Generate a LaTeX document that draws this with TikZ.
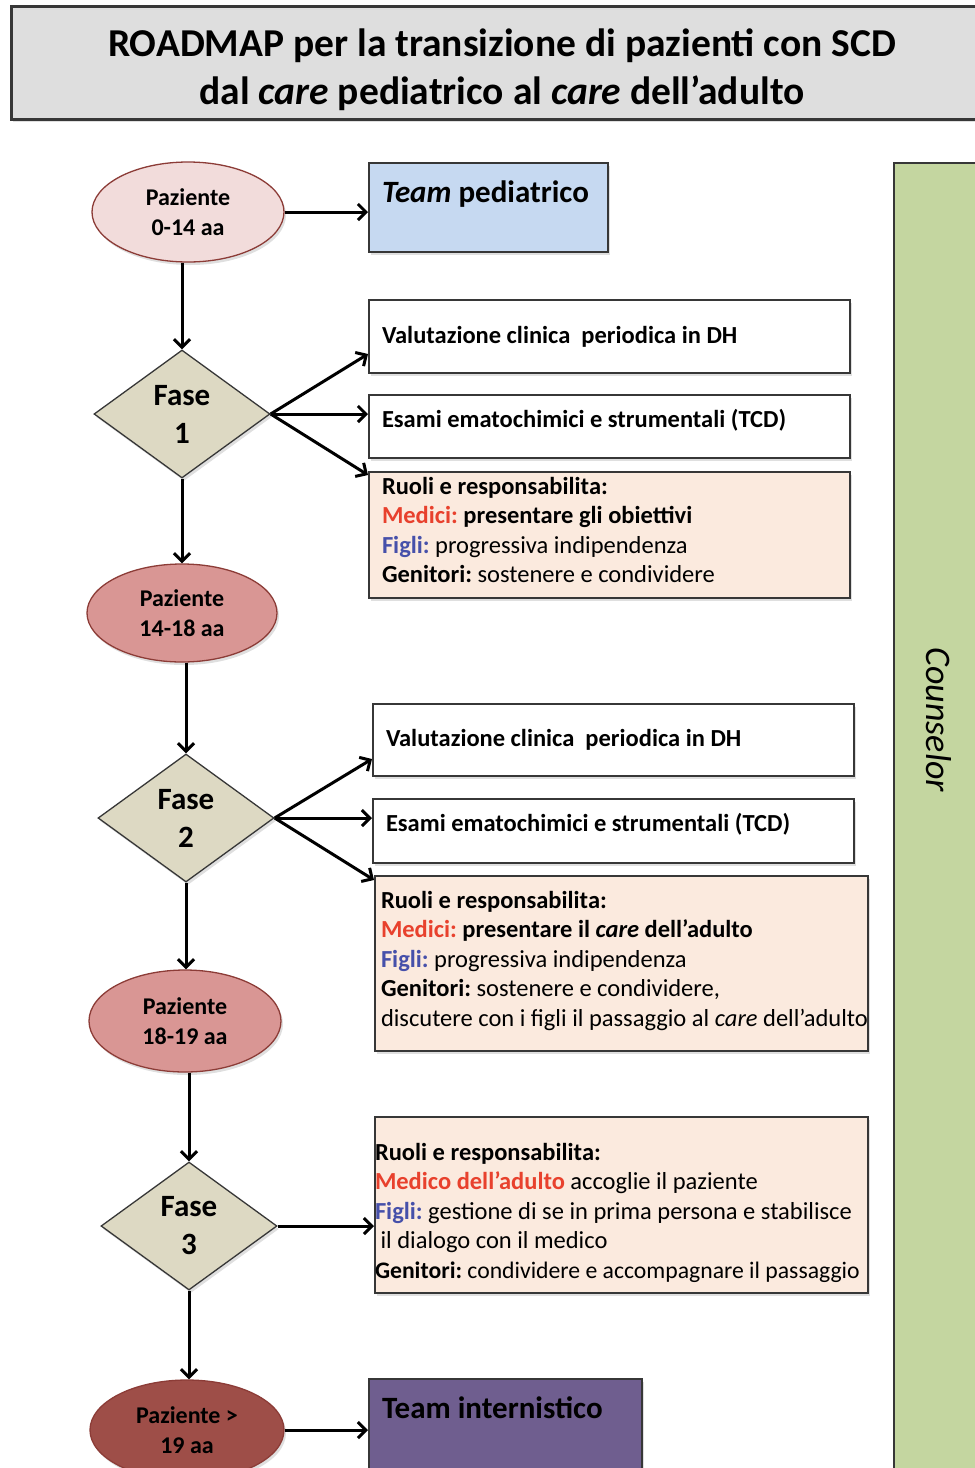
\documentclass[tikz,border=0pt]{standalone}
\usepackage{fontspec}
\setmainfont{Carlito}
\frenchspacing
\usetikzlibrary{shapes.geometric,shadows,arrows.meta}

\definecolor{titlegray}{RGB}{222,222,222}
\definecolor{edgegray}{RGB}{55,55,55}
\definecolor{pinklight}{RGB}{242,220,219}
\definecolor{pinkmid}{RGB}{217,150,148}
\definecolor{reddark}{RGB}{158,78,72}
\definecolor{rededge}{RGB}{140,60,55}
\definecolor{olivegray}{RGB}{221,217,195}
\definecolor{bluelight}{RGB}{198,217,241}
\definecolor{peach}{RGB}{251,234,222}
\definecolor{purplemid}{RGB}{111,94,143}
\definecolor{greenlight}{RGB}{196,214,160}
\definecolor{medred}{RGB}{232,65,45}
\definecolor{figblue}{RGB}{70,80,170}

\tikzset{
  boxshadow/.style={drop shadow={opacity=0.25, shadow xshift=2pt, shadow yshift=-3pt}},
  patient/.style={ellipse, draw=rededge, line width=1.3pt, boxshadow, inner sep=0pt,
    align=center, font=\fontsize{24}{30}\selectfont\bfseries},
  phase/.style={diamond, draw=edgegray, line width=1.3pt, fill=olivegray, boxshadow,
    inner sep=0pt, minimum width=176pt, minimum height=128pt, align=center,
    font=\fontsize{31}{38}\selectfont\bfseries},
  infobox/.style={rectangle, draw=edgegray, line width=2pt, fill=white, boxshadow,
    anchor=north west, align=flush left, inner xsep=13pt, inner ysep=0pt,
    font=\fontsize{24.5}{29.5}\selectfont},
  teambox/.style={infobox, font=\fontsize{31}{36}\selectfont\bfseries},
  link/.style={->, line width=3pt},
}

\begin{document}
\begin{tikzpicture}[x=1pt, y=-1pt, >={Straight Barb[length=8pt, width=16pt]}]
  \useasboundingbox (0,0) rectangle (975,1468);
  \clip (0,0) rectangle (975,1468);

  % title
  \node[rectangle, draw=edgegray, line width=2.5pt, fill=titlegray, boxshadow,
    anchor=north west, inner ysep=0pt, text width=975pt, text height=50pt, text depth=63pt,
    align=flush center, font=\fontsize{39.5}{48}\selectfont\bfseries] (title) at (10,5)
    {ROADMAP per la transizione di pazienti con SCD\\
     dal \textit{care} pediatrico al \textit{care} dell’adulto};

  % counselor column
  \node[rectangle, draw=edgegray, line width=1.5pt, fill=greenlight, boxshadow,
    anchor=north west, minimum width=100pt, minimum height=1330pt] (couns) at (893,162) {};
  \node[rotate=-90, font=\fontsize{36}{40}\selectfont\itshape] (counstext) at (939,720) {Counselor};

  % patients
  \node[patient, fill=pinklight, minimum width=192pt, minimum height=100pt] (p1) at (188,212) {Paziente\\0-14 aa};
  \node[patient, fill=pinkmid, minimum width=190pt, minimum height=98pt] (p2) at (182,613) {Paziente\\14-18 aa};
  \node[patient, fill=pinkmid, minimum width=192pt, minimum height=102pt] (p3) at (185,1021) {Paziente\\18-19 aa};
  \node[patient, fill=reddark, minimum width=194pt, minimum height=100pt] (p4) at (187,1430) {Paziente >\\19 aa};

  % phases
  \node[phase] (f1) at (182,414) {Fase\\1};
  \node[phase] (f2) at (186,818) {Fase\\2};
  \node[phase] (f3) at (189,1226) {Fase\\3};

  % teams
  \node[teambox, fill=bluelight, text width=213pt, text height=39pt, text depth=50pt] (team1) at (368,162)
    {\mbox{\textit{Team} pediatrico}};
  \node[teambox, fill=purplemid, text width=247pt, text height=39pt, text depth=80pt] (team2) at (368,1378)
    {\mbox{Team internistico}};

  % phase 1 boxes
  \node[infobox, text width=455pt, minimum height=73pt] (v1) at (368,299)
    {\textbf{Valutazione clinica\ \ periodica in DH}};
  \node[infobox, text width=455pt, text height=32pt, text depth=31pt] (e1) at (368,394)
    {\textbf{Esami ematochimici e strumentali (TCD)}};
  \node[infobox, fill=peach, text width=455pt, text height=22pt, text depth=104pt] (r1) at (368,471)
    {\textbf{Ruoli e responsabilita:}\\
     \textcolor{medred}{\textbf{Medici:}} \textbf{presentare gli obiettivi}\\
     \textcolor{figblue}{\textbf{Figli:}} progressiva indipendenza\\
     \textbf{Genitori:} sostenere e condividere};

  % phase 2 boxes
  \node[infobox, text width=455pt, minimum height=72pt] (v2) at (372,703)
    {\textbf{Valutazione clinica\ \ periodica in DH}};
  \node[infobox, text width=455pt, text height=32pt, text depth=32pt] (e2) at (372,798)
    {\textbf{Esami ematochimici e strumentali (TCD)}};
  \node[infobox, fill=peach, inner xsep=6pt, text width=481pt, text height=32pt, text depth=143pt] (r2) at (374,875)
    {\textbf{Ruoli e responsabilita:}\\
     \textcolor{medred}{\textbf{Medici:}} \textbf{presentare il \textit{care} dell’adulto}\\
     \textcolor{figblue}{\textbf{Figli:}} progressiva indipendenza\\
     \textbf{Genitori:} sostenere e condividere,\\
     \mbox{discutere con i figli il passaggio al \textit{care} dell’adulto}};

  % phase 3 box
  \node[infobox, fill=peach, inner xsep=0pt, text width=493pt, text height=43pt, text depth=133pt] (r3) at (374,1116)
    {\textbf{Ruoli e responsabilita:}\\
     \textcolor{medred}{\textbf{Medico dell’adulto}} accoglie il paziente\\
     \mbox{\textcolor{figblue}{\textbf{Figli:}} gestione di se in prima persona e stabilisce}\\
     \ il dialogo con il medico\\
     \mbox{\fontsize{23.7}{29.5}\selectfont\textbf{Genitori:} condividere e accompagnare il passaggio}};

  % connectors
  \draw[link] (p1.east) -- (p1.east -| team1.west);
  \draw[link] (f1.north |- p1.south) -- (f1.north);
  \draw[link] (f1.east) -- ([yshift=20pt]v1.south west);
  \draw[link] (f1.east) -- (f1.east -| e1.west);
  \draw[link] (f1.east) -- ([yshift=-4pt]r1.north west);
  \draw[link] (f1.south) -- (f1.south |- p2.north);

  \draw[link] (f2.north |- p2.south) -- (f2.north);
  \draw[link] (f2.east) -- ([yshift=18pt]v2.south west);
  \draw[link] (f2.east) -- (f2.east -| e2.west);
  \draw[link] (f2.east) -- ([yshift=-5pt]r2.north west);
  \draw[link] (f2.south) -- (f2.south |- p3.north);

  \draw[link] (f3.north |- p3.south) -- (f3.north);
  \draw[link] (f3.east) -- (f3.east -| r3.west);
  \draw[link] (f3.south) -- (f3.south |- p4.north);
  \draw[link] (p4.east) -- (p4.east -| team2.west);
\end{tikzpicture}
\end{document}
